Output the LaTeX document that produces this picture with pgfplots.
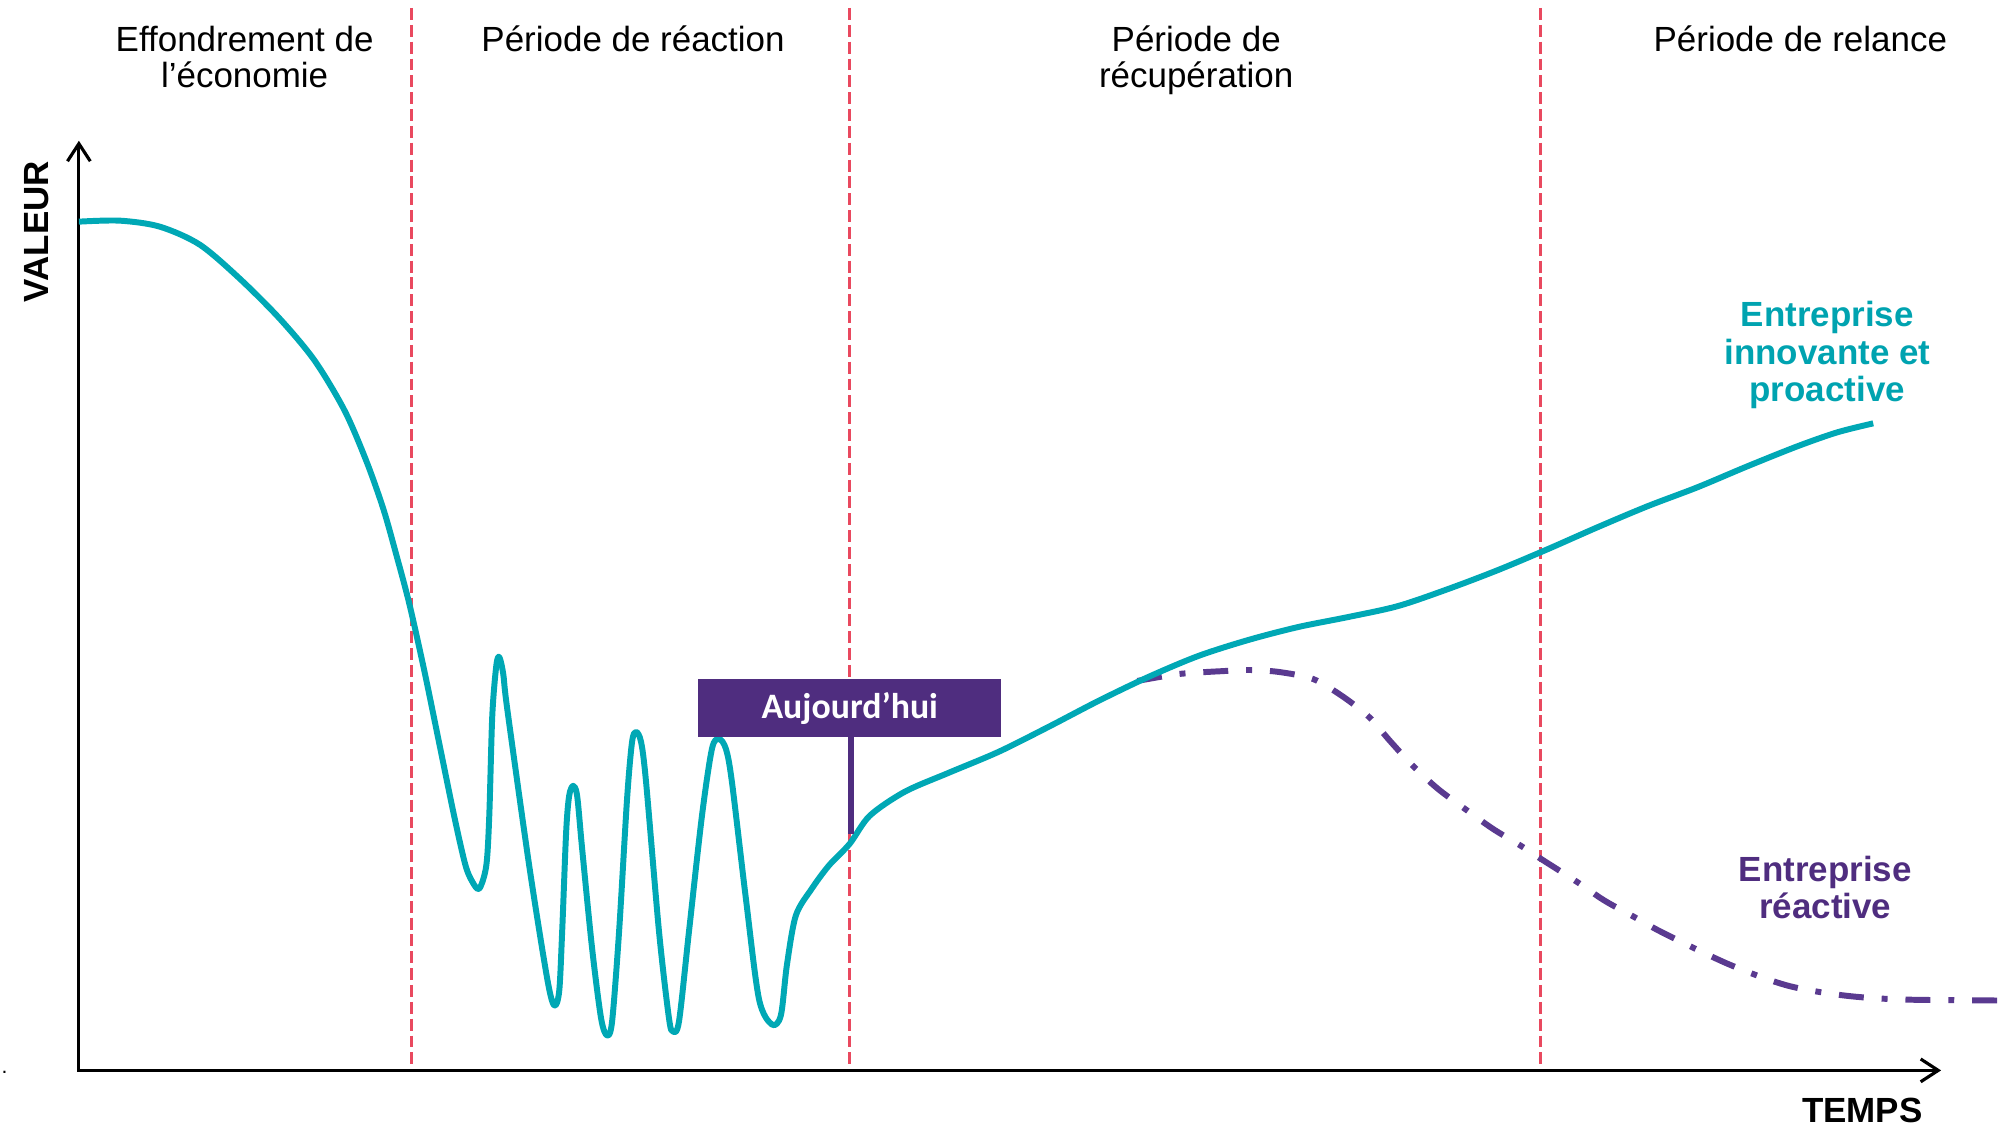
\documentclass[border=0pt]{standalone}
\usepackage{fontspec}
\setmainfont{Liberation Sans}
\newfontfamily\tagfont{Carlito}
\usepackage{pgfplots}
\pgfplotsset{compat=1.18}
\usetikzlibrary{arrows.meta}

\definecolor{curveteal}{HTML}{00A8B5}
\definecolor{labelteal}{HTML}{00A3B0}
\definecolor{tagpurple}{HTML}{4F2D7F}
\definecolor{curvepurple}{HTML}{5A3A90}
\definecolor{phasered}{HTML}{E9495F}

\begin{document}
\begin{tikzpicture}
\begin{axis}[
  scale only axis,
  width=20.01cm, height=11.30cm,
  xmin=0, xmax=2001, ymin=0, ymax=1130,
  y dir=reverse,
  hide axis,
  clip=false,
]
% canvas extent
\addplot[draw=none] coordinates {(0,0) (2001,1130)};

% phase separators
\addplot[phasered, line width=0.95pt, dash pattern=on 3.4pt off 1.4pt] coordinates {(412,8) (412,1071)};
\addplot[phasered, line width=0.95pt, dash pattern=on 3.4pt off 1.4pt] coordinates {(851,8) (851,1071)};
\addplot[phasered, line width=0.95pt, dash pattern=on 3.4pt off 1.4pt] coordinates {(1543,8) (1543,1071)};

% axes
\addplot[black, line width=0.9pt, line join=miter,
  {Straight Barb[length=5pt,width=6.5pt]}-{Straight Barb[length=5pt,width=6.5pt]}]
  coordinates {(79,141) (79,1072) (1944,1072)};

% reactive company (dash-dot)
\addplot[curvepurple, line width=1.7pt, smooth,
  dash pattern=on 7.1pt off 5.1pt on 1.7pt off 5.1pt]
  coordinates {
  (1139,682) (1181,675) (1227,672) (1252,671) (1281,673) (1315,680)
  (1344,697) (1371,718) (1392,742) (1415,767) (1440,790) (1467,810)
  (1495,830) (1523,847) (1543,860) (1579,883) (1607,902) (1636,918)
  (1667,935) (1732,966) (1790,987) (1847,997) (1905,1001) (2001,1002)};

% innovative and proactive company
\addplot[curveteal, line width=1.7pt, smooth, line join=round]
  coordinates {
  (79,222) (120,221) (160,227) (200,245) (240,279) (280,319) (315,361)
  (345,411) (367,462) (384,510) (397,556) (410,605) (425,672)
  (440,745) (455,818) (466,866)
  (473,883) (480,890) (487,867) (490,817) (493,717) (497,667) (500,658)
  (504,675) (508,710) (530,867) (548,980) (555,1007)
  (560,993) (563,933) (567,833) (570,797) (574,787)
  (578,797) (583,850) (593,950) (602,1020) (608,1037)
  (613,1023) (620,933) (628,800) (633,743) (637,733)
  (642,743) (647,783) (660,933) (670,1020) (674,1033)
  (680,1023) (690,933) (703,817) (713,750) (720,740)
  (727,750) (733,783) (747,900) (760,1000) (773,1026)
  (782,1017) (788,967) (797,917) (813,890) (830,867) (851,845)
  (871,817) (906,793) (950,774) (1000,753) (1050,728) (1100,702)
  (1150,678) (1200,657) (1250,641) (1300,628) (1350,618) (1400,607)
  (1450,590) (1500,571) (1550,550) (1600,528) (1650,507) (1700,488)
  (1750,467) (1800,447) (1840,433) (1876,424)};

% "today" marker
\addplot[tagpurple, line width=1.7pt] coordinates {(852,738) (852,835)};
\addplot[fill=tagpurple, draw=none] coordinates {(699,680) (1002,680) (1002,738) (699,738)} -- cycle;
\node[text=white, font=\tagfont\bfseries\fontsize{10.2}{12}\selectfont] at (axis cs:851,710) {Aujourd’hui};

% phase titles (base anchor sits on the last line)
\node[anchor=base, align=center, font=\fontsize{9.96}{10.3}\selectfont] at (axis cs:245,88) {Effondrement de\\l’économie};
\node[anchor=base, font=\fontsize{9.96}{10.3}\selectfont] at (axis cs:634,52) {Période de réaction};
\node[anchor=base, align=center, font=\fontsize{9.96}{10.3}\selectfont] at (axis cs:1198,88) {Période de\\récupération};
\node[anchor=base, font=\fontsize{9.96}{10.3}\selectfont] at (axis cs:1803,52) {Période de relance};

% axis titles
\node[rotate=90, font=\bfseries\fontsize{9.96}{12}\selectfont] at (axis cs:37,232) {VALEUR};
\node[anchor=base, inner sep=0pt, font=\bfseries\fontsize{9.96}{12}\selectfont] at (axis cs:1865,1124) {TEMPS};
\node[anchor=base west, inner sep=0pt, font=\fontsize{6}{7}\selectfont] at (axis cs:1,1075) {.};

% series labels
\node[anchor=base, align=center, text=labelteal, font=\bfseries\fontsize{9.96}{10.6}\selectfont] at (axis cs:1830,402) {Entreprise\\innovante et\\proactive};
\node[anchor=base, align=center, text=tagpurple, font=\bfseries\fontsize{9.96}{10.6}\selectfont] at (axis cs:1828,920) {Entreprise\\réactive};
\end{axis}
\end{tikzpicture}
\end{document}
